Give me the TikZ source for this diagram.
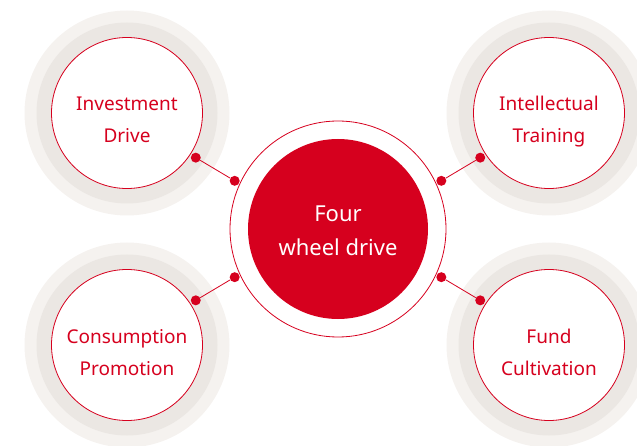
\documentclass[tikz,border=0pt]{standalone}
\usepackage{fontspec}
\setmainfont{Noto Sans}
\definecolor{fwdred}{RGB}{214,0,30}
\definecolor{ringouter}{RGB}{245,242,239}
\definecolor{ringinner}{RGB}{235,231,227}
\usetikzlibrary{calc}

\begin{document}
\begin{tikzpicture}[
  x=1pt, y=1pt,
  halo/.style={circle, fill=ringouter, minimum size=205pt, inner sep=0pt},
  ring/.style={circle, fill=ringinner, minimum size=181pt, inner sep=0pt},
  sat/.style={circle, draw=fwdred, line width=0.8pt, fill=white, minimum size=151pt, inner sep=0pt, align=center, text=fwdred, text height=60pt, text depth=0pt, font=\fontsize{19}{32}\selectfont},
  dot/.style={circle, fill=fwdred, minimum size=10pt, inner sep=0pt},
  link/.style={draw=fwdred, line width=0.8pt},
]
  \useasboundingbox (0,0) rectangle (637,-446);

  % Centre
  \node[circle, draw=fwdred, line width=0.8pt, minimum size=216pt, inner sep=0pt] (Cring) at (338,-229) {};
  \node[circle, fill=fwdred, minimum size=180pt, inner sep=0pt, align=center, text=white, text height=54pt, text depth=0pt, font=\fontsize{22}{34}\selectfont] (C) at (338,-229) {Four\\wheel drive};

  % Satellites
  \foreach \n/\p in {TL/{127,-113}, TR/{549,-113}, BL/{127,-345}, BR/{549,-345}} {
    \node[halo] (\n halo) at (\p) {};
    \node[ring] (\n ring) at (\p) {};
  }
  \node[sat] (TL) at (127,-113) {Investment\\Drive};
  \node[sat] (TR) at (549,-113) {Intellectual\\Training};
  \node[sat] (BL) at (127,-345) {Consumption\\Promotion};
  \node[sat] (BR) at (549,-345) {Fund\\Cultivation};

  % Dots
  \node[dot] (TLd) at ($(TL)+(-33:82)$) {};
  \node[dot] (TRd) at ($(TR)+(213:82)$) {};
  \node[dot] (BLd) at ($(BL)+(33:82)$) {};
  \node[dot] (BRd) at ($(BR)+(147:82)$) {};
  \node[dot] (CTL) at ($(C)+(155:114)$) {};
  \node[dot] (CTR) at ($(C)+(25:114)$) {};
  \node[dot] (CBL) at ($(C)+(205:114)$) {};
  \node[dot] (CBR) at ($(C)+(-25:114)$) {};

  % Edges
  \draw[link] (TLd) -- (CTL);
  \draw[link] (TRd) -- (CTR);
  \draw[link] (BLd) -- (CBL);
  \draw[link] (BRd) -- (CBR);
\end{tikzpicture}
\end{document}
